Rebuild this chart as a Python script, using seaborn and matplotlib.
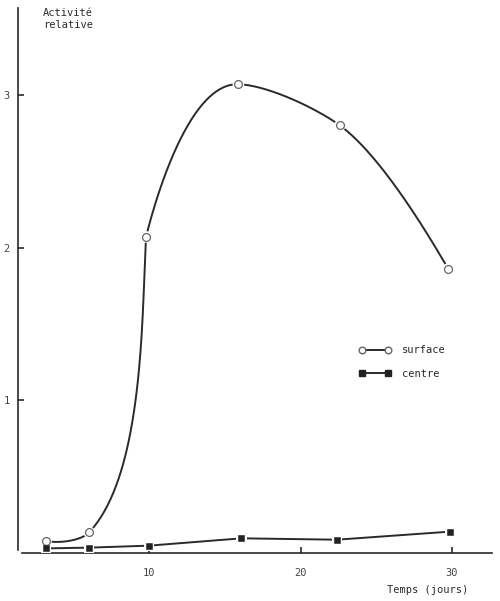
import numpy as np
import pandas as pd
import matplotlib
matplotlib.use("Agg")
import matplotlib.pyplot as plt
import seaborn as sns
from matplotlib.lines import Line2D

# values
surface_days = [3.2, 6.05, 9.8, 15.9, 22.6, 29.75]
surface_act = [0.08, 0.135, 2.07, 3.07, 2.80, 1.86]
centre_days = [3.2, 6.05, 10.0, 16.1, 22.4, 29.9]
centre_act = [0.03, 0.035, 0.048, 0.096, 0.087, 0.14]
xticks = [10, 20, 30]
yticks = [1, 2, 3]

surf = pd.DataFrame({"jours": surface_days, "act": surface_act})
cent = pd.DataFrame({"jours": centre_days, "act": centre_act})

# drawing style of the hand-traced curve: tangent direction (deg, on screen)
# arriving at / leaving each surface point
angles_in = [-15, 47, 87, -2, -36, -60]
angles_out = [-15, 47, 76, -2, -36, -60]


def smooth(xs, ys, a_in, a_out, sx=15.15, sy=152.5, k=0.8, n=80):
    # cubic hermite through the points, worked out in screen-like units
    p = np.column_stack([np.array(xs) * sx, np.array(ys) * sy])
    ai, ao = np.radians(a_in), np.radians(a_out)
    mi = np.column_stack([np.cos(ai), np.sin(ai)])
    mo = np.column_stack([np.cos(ao), np.sin(ao)])
    t = np.linspace(0, 1, n)[:, None]
    h00 = 2 * t**3 - 3 * t**2 + 1
    h10 = t**3 - 2 * t**2 + t
    h01 = -2 * t**3 + 3 * t**2
    h11 = t**3 - t**2
    out = []
    for i in range(len(p) - 1):
        L = k * np.linalg.norm(p[i + 1] - p[i])
        out.append(h00 * p[i] + h10 * L * mo[i] + h01 * p[i + 1] + h11 * L * mi[i + 1])
    c = np.vstack(out)
    return c[:, 0] / sx, c[:, 1] / sy


sns.set_style("ticks")
plt.rcParams["font.family"] = ["DejaVu Sans Mono", "DejaVu Sans"]

fig = plt.figure(figsize=(5, 6.01), dpi=100)
ax = fig.add_axes([0.036, 0.0799, 0.948, 0.907])

ink = "#2a2a2a"

# surface: smooth curve + open circles
cx, cy = smooth(surface_days, surface_act, angles_in, angles_out)
ax.plot(cx, cy, color=ink, lw=1.4, zorder=2)
sns.scatterplot(data=surf, x="jours", y="act", ax=ax, s=70, color="white",
                edgecolor="none", zorder=3)
sns.scatterplot(data=surf, x="jours", y="act", ax=ax, s=32, facecolor="white",
                edgecolor="#666666", linewidth=0.9, zorder=4)

# centre: straight segments + filled squares
sns.lineplot(data=cent, x="jours", y="act", ax=ax, color=ink, lw=1.4, zorder=2)
sns.scatterplot(data=cent, x="jours", y="act", ax=ax, s=55, marker="s",
                color="white", edgecolor="none", zorder=3)
sns.scatterplot(data=cent, x="jours", y="act", ax=ax, s=24, marker="s",
                color="#222222", edgecolor="#222222", zorder=4)

ax.set_xlim(1.35, 32.64)
ax.set_ylim(0, 3.57)
ax.set_xticks(xticks)
ax.set_yticks(yticks)
ax.set_xlabel("")
ax.set_ylabel("")
ax.tick_params(direction="in", length=4, width=1.2, colors=ink,
               labelcolor="#444444", labelsize=7.5)
ax.tick_params(axis="x", pad=11)
ax.tick_params(axis="y", pad=6)
for s in ["top", "right"]:
    ax.spines[s].set_visible(False)
for s in ["left", "bottom"]:
    ax.spines[s].set_color(ink)
    ax.spines[s].set_linewidth(1.2)
ax.spines["left"].set_bounds(0.02, 3.57)
ax.spines["bottom"].set_bounds(1.6, 32.64)

ax.text(0.052, 1.0, "Activité\nrelative", transform=ax.transAxes,
        fontsize=7.5, color=ink, va="top", ha="left", linespacing=1.3)
ax.text(0.778, -0.068, "Temps (jours)", transform=ax.transAxes,
        fontsize=7.5, color=ink, va="center", ha="left")

handles = [
    Line2D([], [], color=ink, lw=1.4, marker="o", markersize=4.8,
           markerfacecolor="white", markeredgecolor="#666666"),
    Line2D([], [], color=ink, lw=1.4, marker="s", markersize=3.9,
           markerfacecolor="#222222", markeredgecolor="#222222"),
]
ax.legend(handles, ["surface", "centre"], loc="upper left",
          bbox_to_anchor=(0.7, 0.398), frameon=False, numpoints=2,
          handlelength=3.1, handletextpad=1.0, labelspacing=1.3,
          prop={"size": 7.5})

fig.savefig("out.png", dpi=100)
